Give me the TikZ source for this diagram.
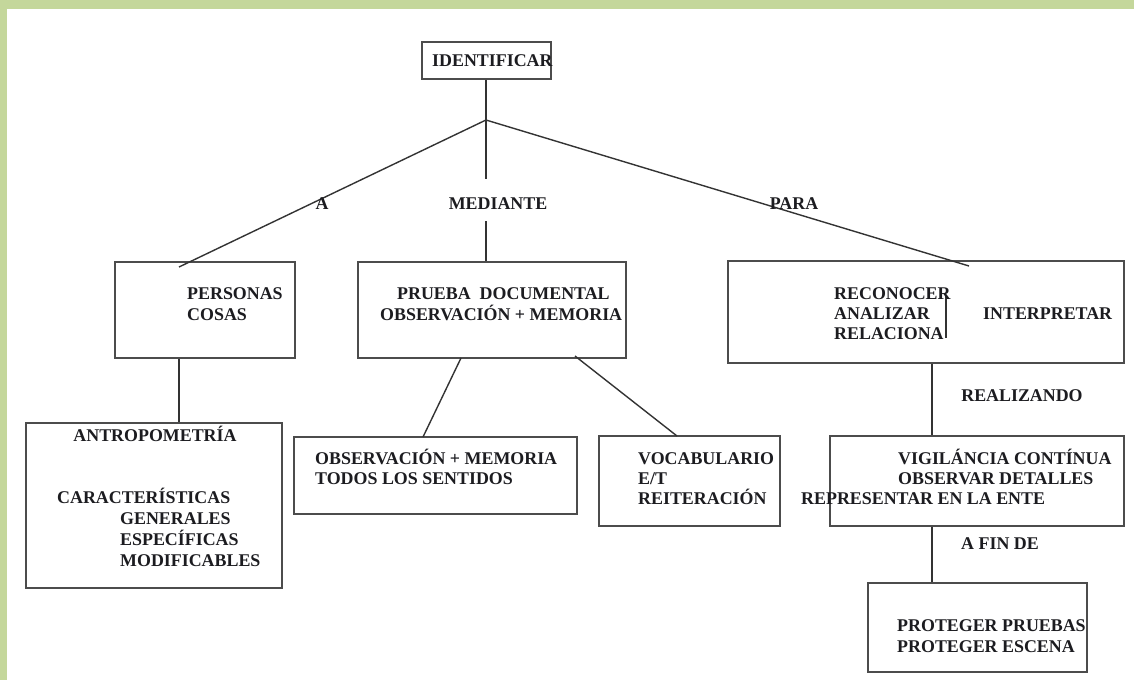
\documentclass[tikz,border=0pt]{standalone}
\usepackage{fontspec}
\setmainfont{Liberation Serif}
\definecolor{bandgreen}{RGB}{196,215,155}
\definecolor{ink}{RGB}{28,28,32}
\begin{document}
\begin{tikzpicture}[x=1pt,y=-1pt,
  box/.style={draw=black!70, line width=1.5pt, rectangle, inner sep=0pt},
  conn/.style={draw=black!80, line width=1.4pt},
  txt/.style={anchor=base west, inner sep=0pt, text=ink,
    font=\bfseries\fontsize{17.9}{21}\selectfont},
  lbl/.style={anchor=base, inner sep=0pt, text=ink,
    font=\bfseries\fontsize{17.9}{21}\selectfont}]
\useasboundingbox (0,0) rectangle (1134,680);
\fill[white] (0,0) rectangle (1134,680);
\fill[bandgreen] (0,0) rectangle (1134,9);
\fill[bandgreen] (0,0) rectangle (7,680);

% boxes
\node[box, minimum width=129pt, minimum height=37pt] (id) at (486.5,60.5) {};
\node[box, minimum width=180pt, minimum height=96pt] (per) at (205,310) {};
\node[box, minimum width=268pt, minimum height=96pt] (pru) at (492,310) {};
\node[box, minimum width=396pt, minimum height=102pt] (rec) at (926,312) {};
\node[box, minimum width=256pt, minimum height=165pt] (ant) at (154,505.5) {};
\node[box, minimum width=283pt, minimum height=77pt] (obs) at (435.5,475.5) {};
\node[box, minimum width=181pt, minimum height=90pt] (voc) at (689.5,481) {};
\node[box, minimum width=294pt, minimum height=90pt] (vig) at (977,481) {};
\node[box, minimum width=219pt, minimum height=89pt] (pro) at (977.5,627.5) {};

% coordinates
\coordinate (J) at (486,120);
\coordinate (m1) at (486,179);
\coordinate (m2) at (486,221);
\coordinate (perIn) at (179,267);
\coordinate (recIn) at (969,266);
\coordinate (pa) at (179,0);
\coordinate (po1) at (461,358);
\coordinate (po2) at (423,437);
\coordinate (pv1) at (575,356);
\coordinate (pv2) at (677,436);
\coordinate (vx) at (932,0);

% connectors
\draw[conn] (id.south -| J) -- (J);
\draw[conn] (J) -- (m1);
\draw[conn] (m2) -- (pru.north -| J);
\draw[conn] (J) -- (perIn);
\draw[conn] (J) -- (recIn);
\draw[conn] (per.south -| pa) -- (ant.north -| pa);
\draw[conn] (po1) -- (po2);
\draw[conn] (pv1) -- (pv2);
\draw[conn] (rec.south -| vx) -- (vig.north -| vx);
\draw[conn] (vig.south -| vx) -- (pro.north -| vx);
\draw[conn] (946,295) -- (946,338);

% edge labels
\node[lbl] (la) at (322,209) {A};
\node[lbl] (lm) at (498,209) {MEDIANTE};
\node[lbl] (lp) at (794,209) {PARA};
\node[lbl] (lr) at (1022,401) {REALIZANDO};
\node[lbl] (lf) at (1000,549) {A FIN DE};

% texts
\node[txt] (t1) at (432,66) {IDENTIFICAR};
\node[txt] (t2) at (187,299) {PERSONAS};
\node[txt] (t3) at (187,320) {COSAS};
\node[txt] (t4) at (397,299) {PRUEBA\ \ DOCUMENTAL};
\node[txt] (t5) at (380,320) {OBSERVACIÓN + MEMORIA};
\node[txt] (t6) at (834,299) {RECONOCER};
\node[txt] (t7) at (834,319) {ANALIZAR};
\node[txt] (t8) at (834,339) {RELACIONA};
\node[txt] (t9) at (983,319) {INTERPRETAR};
\node[lbl] (t10) at (155,441) {ANTROPOMETRÍA};
\node[txt] (t11) at (57,503) {CARACTERÍSTICAS};
\node[txt] (t12) at (120,524) {GENERALES};
\node[txt] (t13) at (120,545) {ESPECÍFICAS};
\node[txt] (t14) at (120,566) {MODIFICABLES};
\node[txt] (t15) at (315,464) {OBSERVACIÓN + MEMORIA};
\node[txt] (t16) at (315,484) {TODOS LOS SENTIDOS};
\node[txt] (t17) at (638,464) {VOCABULARIO};
\node[txt] (t18) at (638,484) {E/T};
\node[txt] (t19) at (638,504) {REITERACIÓN};
\node[txt] (t20) at (898,464) {VIGILÁNCIA CONTÍNUA};
\node[txt] (t21) at (898,484) {OBSERVAR DETALLES};
\node[txt] (t22) at (801,504) {REPRESENTAR EN LA ENTE};
\node[txt] (t23) at (897,631) {PROTEGER PRUEBAS};
\node[txt] (t24) at (897,652) {PROTEGER ESCENA};
\end{tikzpicture}
\end{document}
